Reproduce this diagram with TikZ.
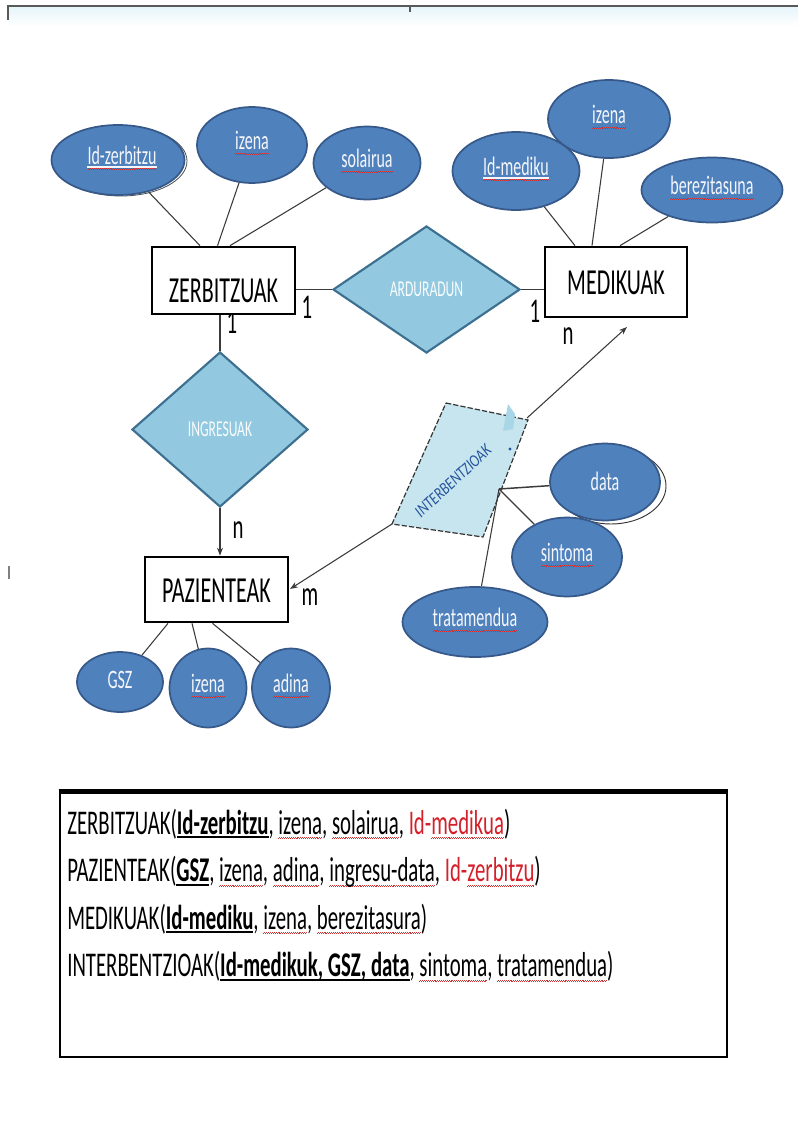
\documentclass[tikz,border=0pt]{standalone}
\usepackage{fontspec}
\setmainfont{Carlito}[FakeStretch=0.6]
\newfontfamily\tiltfont{Carlito}[FakeStretch=0.8]
\usetikzlibrary{arrows.meta,shapes.geometric,calc}

\definecolor{attrfill}{HTML}{4F81BD}
\definecolor{attredge}{HTML}{36598A}
\definecolor{attrtext}{HTML}{F4F6FA}
\definecolor{relfill}{HTML}{92C9E0}
\definecolor{reledge}{HTML}{3D6F90}
\definecolor{intfill}{HTML}{C7E5EE}
\definecolor{intmark}{HTML}{A9D6E6}
\definecolor{intblue}{HTML}{24549C}
\definecolor{linegray}{HTML}{3A3A3A}
\definecolor{wavered}{HTML}{D03030}
\definecolor{fkred}{HTML}{D4202A}
\definecolor{bandblue}{HTML}{E6F5FA}

% red spell-check wave under a word
\newcommand\wv{\hbox{{\color{wavered}\rule[-3.6pt]{0.7pt}{0.55pt}\rule[-3.0pt]{0.7pt}{0.55pt}}}}
\newsavebox\wordbox
\newcommand\sq[1]{\leavevmode\sbox\wordbox{#1}%
  \rlap{\hbox to \wd\wordbox{\xleaders\wv\hfil}}\usebox\wordbox}
% bold, underlined key attribute
\newcommand\pkey[1]{\leavevmode\sbox\wordbox{\textbf{#1}}%
  \rlap{\rule[-3pt]{\wd\wordbox}{1.5pt}}\usebox\wordbox}

\begin{document}
\begin{tikzpicture}[x=0.75pt,y=-0.75pt,
  link/.style={draw=linegray, line width=0.8pt},
  arr/.style={link, -{Stealth[length=6pt,width=4.5pt]}},
  entity/.style 2 args={rectangle, draw=black, line width=2pt, fill=white,
    minimum width=#1*0.75pt, minimum height=#2*0.75pt, inner sep=0pt},
  etxt/.style={font=\fontsize{27.5}{27.5}\selectfont, inner sep=0pt},
  rel/.style 2 args={diamond, draw=reledge, line width=1.6pt, fill=relfill,
    minimum width=#1*0.75pt, minimum height=#2*0.75pt, inner sep=0pt,
    text=white!94!relfill},
  attr/.style 2 args={ellipse, draw=attredge, line width=1.3pt, fill=attrfill,
    minimum width=#1*0.75pt, minimum height=#2*0.75pt, inner sep=0pt},
  atxt/.style={text=attrtext, font=\fontsize{20}{20}\selectfont, inner sep=0pt},
  card/.style={font=\fontsize{26}{26}\selectfont, inner sep=0pt},
  schema/.style={font=\fontsize{26}{26}\selectfont, anchor=base west, inner sep=0pt},
  keyline/.style={draw=attrtext, line width=0.8pt}
]
\useasboundingbox (0,0) rectangle (798,1128);

% window edge at the top
\shade[top color=bandblue, bottom color=white] (8,7) rectangle (798,26);
\draw[draw=gray!70!black, line width=1.5pt] (8,20) -- (8,6) -- (798,6);
\draw[draw=gray!70!black, line width=1pt] (410,6) -- (410,12);
\draw[draw=gray, line width=0.8pt] (9,566) -- (9,579);

% ---------- relationship diamonds ----------
\node[rel={187}{127}, font=\fontsize{17}{17}\selectfont] (ard) at (426.5,289.5) {ARDURADUN};
\node[rel={176}{155}, font=\fontsize{17}{17}\selectfont] (ing) at (220,429.5) {INGRESUAK};

% cardinality under ZERBITZUAK, partly covered by the box
\node[card] (c1c) at (232,322) {1};

% ---------- entities ----------
\node[entity={143}{67}] (zer) at (223.5,280.5) {};
\node[etxt] (zert) at (223.5,291) {ZERBITZUAK};
\node[entity={142}{70}] (med) at (616,282) {};
\node[etxt] (medt) at (616,283) {MEDIKUAK};
\node[entity={143}{65}] (paz) at (216.5,589.5) {};
\node[etxt] (pazt) at (216.5,591) {PAZIENTEAK};

% ---------- INTERBENTZIOAK (tilted relationship) ----------
\coordinate (i1) at (446,403);
\coordinate (i2) at (528,420);
\coordinate (i3) at (483,537);
\coordinate (i4) at (392,524);
\coordinate (ip) at (499,489);
\coordinate (ia) at (527,418);
\filldraw[fill=intfill, draw=black!80, line width=0.9pt, dash pattern=on 4pt off 1.5pt]
  (i1) -- (i2) -- (i3) -- (i4) -- cycle;
\fill[intmark] (508,404) -- (515,414) -- (513,429) -- (503,431) -- cycle;
\fill[intblue] (510,449) circle [radius=1.6];
\node[rotate=43, text=intblue, font=\tiltfont\itshape\fontsize{13}{13}\selectfont, inner sep=0pt]
  (intt) at (453,481) {INTERBENTZIOAK};

% ---------- relationship connectors ----------
\draw[link, line width=1pt] (ard.west -| zer.east) -- (ard.west);
\draw[link, line width=1pt] (ard.east) -- (ard.east -| med.west);
\draw[link] (ing.north |- zer.south) -- (ing.north);
\draw[arr] (ing.south) -- (ing.south |- paz.north);
\coordinate (pazin) at (290,589);
\coordinate (medin) at (627,327);
\draw[arr] (i4) -- (pazin);
\draw[arr] (ia) -- (medin);

\node[card] (c1a) at (307,307) {1};
\node[card] (c1b) at (535,311) {1};
\node[card] (cn1) at (238,530) {n};
\node[card] (cn2) at (568,336) {n};
\node[card] (cm) at (310,597) {m};

% ---------- attributes of ZERBITZUAK ----------
\draw[draw=black!70, line width=0.6pt] (121,161) ellipse [x radius=66, y radius=35];
\node[attr={133}{70}] (zid) at (118,160) {};
\node[atxt] (zidt) at (122,158) {\sq{Id-zerbitzu}};
\draw[keyline] ([yshift=-1.6pt]zidt.base west) -- ([yshift=-1.6pt]zidt.base east);
\node[attr={110}{76}] (ziz) at (252,145) {};
\node[atxt] (zizt) at (252,143) {\sq{izena}};
\node[attr={107}{73}] (zso) at (367,163) {};
\node[atxt] (zsot) at (367,161) {\sq{solairua}};
\draw[link] (zid) -- ($(zer.north)+(-23.5,0)$);
\draw[link] (ziz) -- ($(zer.north)+(-6,0)$);
\draw[link] (zso) -- ($(zer.north)+(6.5,0)$);

% ---------- attributes of MEDIKUAK ----------
\node[attr={127}{78}] (mid) at (516,171) {};
\node[atxt] (midt) at (516,169) {\sq{Id-mediku}};
\draw[keyline] ([yshift=-1.6pt]midt.base west) -- ([yshift=-1.6pt]midt.base east);
\node[attr={122}{78}] (miz) at (609,119) {};
\node[atxt] (mizt) at (609,117) {\sq{izena}};
\node[attr={141}{65}] (mbe) at (712,190) {};
\node[atxt] (mbet) at (712,188) {\sq{berezitasuna}};
\draw[link] (mid) -- ($(med.north)+(-41,0)$);
\draw[link] (miz) -- ($(med.north)+(-24,0)$);
\draw[link] (mbe) -- ($(med.north)+(4,0)$);

% ---------- attributes of INTERBENTZIOAK ----------
\draw[draw=black!80, line width=0.7pt] (611,486) ellipse [x radius=55, y radius=38];
\node[attr={110}{77}] (ida) at (605,482) {};
\node[atxt] (idat) at (605,481) {data};
\node[attr={110}{79}] (isi) at (567,557) {};
\node[atxt] (isit) at (567,555) {\sq{sintoma}};
\node[attr={145}{70}] (itr) at (475,622) {};
\node[atxt] (itrt) at (475,620) {\sq{tratamendua}};
\draw[link, line width=1.1pt] (ip) -- (ida);
\draw[link] (ip) -- (isi);
\draw[link] (ip) -- (itr);

% ---------- attributes of PAZIENTEAK ----------
\node[attr={86}{60}] (pgs) at (120,682) {};
\node[atxt] (pgst) at (120,680) {GSZ};
\node[attr={77}{79}] (piz) at (208,688) {};
\node[atxt] (pizt) at (208,686) {\sq{izena}};
\node[attr={78}{79}] (pad) at (291,688) {};
\node[atxt] (padt) at (291,686) {\sq{adina}};
\draw[link] (pgs) -- ($(paz.south)+(-48.5,0)$);
\draw[link] (piz) -- ($(paz.south)+(-24.5,0)$);
\draw[link] (pad) -- ($(paz.south)+(-4,0)$);

% ---------- relational schema ----------
\node[rectangle, draw=black, line width=2.2pt, minimum width=667*0.75pt,
  minimum height=264*0.75pt, inner sep=0pt] (sbox) at (393.5,925) {};
\draw[line width=3.6pt] (sbox.north west) -- (sbox.north east);
\node[schema] (s1) at (67,834)
  {ZERBITZUAK(\pkey{Id-zerbitzu}, \sq{izena}, \sq{solairua}, \textcolor{fkred}{Id-\sq{medikua}})};
\node[schema] (s2) at (67,881.5)
  {PAZIENTEAK(\pkey{GSZ}, \sq{izena}, \sq{adina}, \sq{ingresu-data}, \textcolor{fkred}{Id-\sq{zerbitzu}})};
\node[schema] (s3) at (67,929)
  {MEDIKUAK(\pkey{Id-mediku}, \sq{izena}, \sq{berezitasura})};
\node[schema] (s4) at (67,976.5)
  {INTERBENTZIOAK(\pkey{Id-medikuk, GSZ, data}, \sq{sintoma}, \sq{tratamendua})};
\end{tikzpicture}
\end{document}
